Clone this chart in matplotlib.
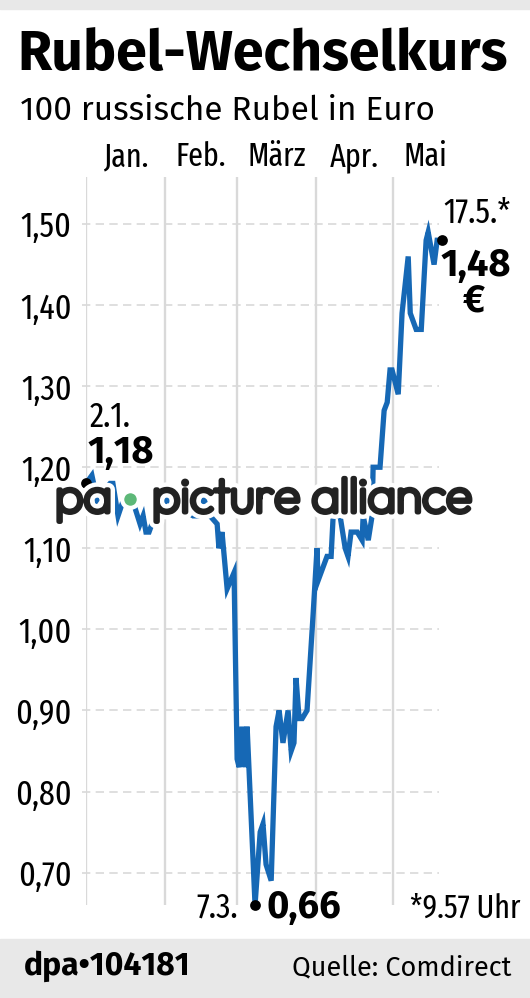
import matplotlib
matplotlib.use("Agg")
from matplotlib import pyplot as plt
from matplotlib import patheffects
from matplotlib.lines import Line2D
from matplotlib.patches import Rectangle

W, H = 530, 998

month_starts = [0, 31, 59, 90, 120]
month_centers = [15.8, 45, 74.5, 105, 132.6]
month_labels = ["Jan.", "Feb.", "März", "Apr.", "Mai"]
y_ticks = [0.70, 0.80, 0.90, 1.00, 1.10, 1.20, 1.30, 1.40, 1.50]
y_labels = ["0,70", "0,80", "0,90", "1,00", "1,10", "1,20", "1,30", "1,40", "1,50"]

days = [0.2, 2.5, 4.5, 6.8, 9.6, 10.7, 12.7, 14.3, 17.4, 19.3, 21.3, 22.5, 23.6, 24.8,
        27.1, 31.8, 36.9, 42, 43.9, 46.3, 48.6, 51.4, 52.1, 53.3, 55.3, 58, 59.2, 60,
        61.1, 62.3, 63.1, 66.2, 68.2, 69.3, 70.5, 72.5, 74.4, 75.6, 77.1, 79.1, 80.3,
        81.4, 82.2, 83.4, 84.6, 86.5, 88.9, 90.4, 90.8, 94.3, 95.9, 96.7, 99.4, 101.4,
        102.5, 103.7, 106.1, 108, 108.4, 110.4, 111.9, 112.3, 115, 116.6, 117.8, 118.9,
        119.7, 122.1, 123.6, 126, 126.8, 129.1, 131.1, 133, 133.8, 136.1, 137.3, 139]
rate = [1.18, 1.19, 1.16, 1.17, 1.18, 1.18, 1.14, 1.155, 1.155, 1.15, 1.13, 1.14, 1.12, 1.12,
        1.14, 1.16, 1.15, 1.14, 1.14, 1.16, 1.14, 1.13, 1.10, 1.12, 1.05, 1.07, 0.84, 0.83,
        0.88, 0.83, 0.88, 0.66, 0.75, 0.76, 0.71, 0.69, 0.88, 0.90, 0.86, 0.90, 0.85,
        0.86, 0.94, 0.89, 0.89, 0.90, 1.02, 1.10, 1.06, 1.09, 1.09, 1.14, 1.14, 1.10,
        1.09, 1.12, 1.12, 1.11, 1.14, 1.11, 1.14, 1.20, 1.20, 1.27, 1.28, 1.32,
        1.32, 1.29, 1.39, 1.46, 1.39, 1.37, 1.37, 1.48, 1.49, 1.45, 1.48, 1.48]
marked_days = [0.2, 66.2, 139]
marked_rate = [1.18, 0.66, 1.48]

NARROW = ["Fira Sans Extra Condensed", "Roboto"]
SANS = ["Fira Sans", "Open Sans"]
LOGO = ["Outfit", "Lato"]


def put(x, y, s, **kw):
    # x, y in pixels from top left, y is the baseline
    kw.setdefault("va", "baseline")
    kw.setdefault("color", "black")
    return fig.text(x / W, 1 - y / H, s, **kw)


fig = plt.figure(figsize=(W / 100, H / 100), dpi=100, facecolor="white")

fig.add_artist(Rectangle((0, 1 - 9 / H), 1, 9 / H, transform=fig.transFigure, color="#e8e8e8", zorder=0))
fig.add_artist(Rectangle((0, 0), 1, 59 / H, transform=fig.transFigure, color="#e8e8e8", zorder=0))

ax = fig.add_axes([85.5 / W, 1 - 905 / H, (441.5 - 85.5) / W, (905 - 177) / H])
ax.patch.set_alpha(0)
ax.set_xlim(0, 139)
ax.set_ylim(0.66, 1.558)
for s in ax.spines.values():
    s.set_visible(False)

for d in month_starts:
    ax.axvline(d, color="#d9d9d9", lw=1.7, zorder=1)
for v in y_ticks:
    ax.plot([-1.5, 138], [v, v], color="#d9d9d9", lw=1.2, dashes=(5, 3.2), zorder=1, clip_on=False)

ax.set_yticks(y_ticks, y_labels, family=NARROW, fontsize=25)
ax.set_xticks(month_centers, month_labels, family=NARROW, fontsize=23.5)
ax.tick_params(axis="y", length=0, pad=10)
ax.tick_params(axis="x", length=0, top=True, labeltop=True, bottom=False, labelbottom=False, pad=3)

ax.plot(days, rate, color="#1668b5", lw=3.8, solid_joinstyle="miter", zorder=3, clip_on=False)
ax.scatter(marked_days, marked_rate, s=60, color="black", zorder=4, clip_on=False, linewidths=0)

put(17, 70, "Rubel-Wechselkurs", family=SANS, weight="bold", fontsize=40)
put(20, 120, "100 russische Rubel in Euro", family=SANS, fontsize=24)

put(90, 427, "2.1.", family=NARROW, fontsize=25)
put(88, 463, "1,18", family=SANS, weight="bold", fontsize=27.5)
put(443, 223, "17.5.*", family=NARROW, fontsize=25)
put(441, 276, "1,48", family=SANS, weight="bold", fontsize=27.5)
put(474, 312, "€", family=SANS, weight="bold", fontsize=27, ha="center")
put(196, 918, "7.3.", family=NARROW, fontsize=25)
put(267, 918, "0,66", family=SANS, weight="bold", fontsize=27.5)
put(520, 918, "*9.57 Uhr", family=NARROW, fontsize=23.5, ha="right")
put(24, 975, "dpa•104181", family=SANS, weight="bold", fontsize=23)
put(511, 975, "Quelle: Comdirect", family=SANS, fontsize=19.5, ha="right")

# watermark, the stroke thickens the letters
halo = [patheffects.withStroke(linewidth=10, foreground="white"),
        patheffects.withStroke(linewidth=3.6, foreground="#222222")]
put(55, 512, "pa", family=LOGO, fontsize=34.8, color="#222222", path_effects=halo, zorder=5)
put(152, 512, "picture alliance", family=LOGO, fontsize=34.8, color="#222222", path_effects=halo, zorder=5)
fig.add_artist(Line2D([130 / W], [1 - 499 / H], transform=fig.transFigure, marker="o", ms=12,
                      mfc="#5db878", mec="white", mew=3, zorder=6))

fig.savefig("out.png", dpi=100)
